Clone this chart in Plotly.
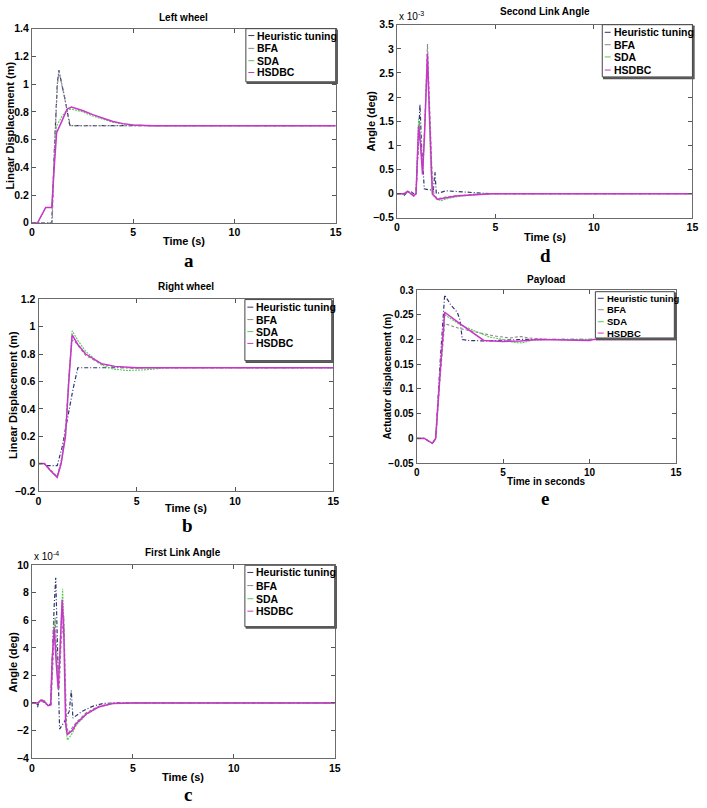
import plotly.graph_objects as go

W, H = 707, 808

# ---------------- data ----------------
# Panel a: Left wheel (m)
LW_HEUR_T = [0, 0.3, 0.98, 1.1, 1.25, 1.33, 1.45, 1.65, 1.87, 15]
LW_HEUR_Y = [0, 0, 0, 0.5, 1.0, 1.10, 1.02, 0.88, 0.70, 0.70]
LW_BFA_T = [0, 0.3, 1.0, 1.12, 1.26, 1.34, 1.5, 1.7, 1.9, 15]
LW_BFA_Y = [0, 0, 0, 0.55, 1.0, 1.09, 0.98, 0.85, 0.70, 0.70]
LW_SDA_T = [0, 0.28, 0.68, 0.98, 1.1, 1.22, 1.5, 1.74, 1.95, 2.5, 3.0, 3.5, 4.0, 4.5, 5.0, 6.0, 15]
LW_SDA_Y = [0, 0, 0.11, 0.11, 0.42, 0.70, 0.77, 0.815, 0.82, 0.80, 0.77, 0.745, 0.725, 0.712, 0.704, 0.70, 0.70]
LW_HSD_T = [0, 0.28, 0.68, 0.98, 1.1, 1.22, 1.5, 1.74, 1.95, 2.5, 3.0, 3.5, 4.0, 4.5, 5.0, 6.0, 15]
LW_HSD_Y = [0, 0, 0.11, 0.11, 0.4, 0.65, 0.74, 0.82, 0.835, 0.81, 0.78, 0.755, 0.73, 0.715, 0.705, 0.70, 0.70]

# Panel b: Right wheel (m)
RW_HEUR_T = [0, 0.3, 0.4, 0.95, 1.2, 1.5, 1.75, 2.0, 15]
RW_HEUR_Y = [0, 0, -0.015, -0.015, 0.12, 0.35, 0.54, 0.70, 0.70]
RW_BFA_T = [0, 0.3, 0.95, 1.2, 1.4, 1.55, 1.7, 1.8, 2.4, 3.2, 4.0, 4.8, 5.5, 6.5, 15]
RW_BFA_Y = [0, 0, -0.095, 0.05, 0.3, 0.65, 0.9, 0.9, 0.79, 0.725, 0.705, 0.695, 0.70, 0.70, 0.70]
RW_SDA_T = [0, 0.29, 0.6, 0.95, 1.15, 1.37, 1.54, 1.71, 2.0, 2.4, 3.2, 3.8, 4.5, 5.5, 6.5, 15]
RW_SDA_Y = [0, 0, -0.05, -0.10, 0.0, 0.2, 0.62, 0.97, 0.9, 0.82, 0.72, 0.69, 0.68, 0.685, 0.70, 0.70]
RW_HSD_T = [0, 0.29, 0.6, 0.95, 1.15, 1.37, 1.54, 1.71, 2.0, 2.4, 3.2, 3.9, 5.0, 15]
RW_HSD_Y = [0, 0, -0.05, -0.10, 0.0, 0.2, 0.6, 0.94, 0.87, 0.80, 0.73, 0.71, 0.70, 0.70]

# Panel c: First link angle (deg, x 1e-4)
FL_HEUR_T = [0, 0.25, 0.28, 0.35, 0.5, 0.7, 0.93, 1.0, 1.1, 1.18, 1.25, 1.3, 1.37, 1.6, 1.85, 1.95, 2.03, 2.5, 3.0, 3.5, 4.0, 15]
FL_HEUR_Y = [0, 0, -0.3, 0.1, 0.2, -0.1, -0.1, 3, 7, 9.1, 5, 1, -1.9, -1.4, -0.6, 0.9, -1.1, -0.6, -0.25, -0.05, 0, 0]
FL_BFA_T = [0, 0.3, 0.45, 0.8, 0.95, 1.05, 1.15, 1.25, 1.35, 1.45, 1.58, 1.65, 1.72, 1.8, 2.2, 2.7, 3.3, 4.0, 5.0, 15]
FL_BFA_Y = [0, 0, 0.15, -0.15, -0.1, 3.5, 6.2, 3, 1.0, 4.5, 6.3, 2, -1.6, -2.2, -1.4, -0.7, -0.25, -0.03, 0, 0]
FL_SDA_T = [0, 0.3, 0.45, 0.6, 0.8, 0.93, 1.0, 1.1, 1.2, 1.3, 1.4, 1.52, 1.6, 1.68, 1.76, 2.0, 2.2, 2.7, 3.3, 4.0, 5.0, 15]
FL_SDA_Y = [0, 0, 0.2, 0.15, -0.2, -0.15, 3.2, 6.0, 3.5, 1.2, 4.5, 8.3, 5, -1.8, -2.7, -2.2, -1.6, -0.85, -0.3, -0.05, 0, 0]
FL_HSD_T = [0, 0.3, 0.45, 0.6, 0.8, 0.93, 1.0, 1.1, 1.2, 1.3, 1.4, 1.5, 1.58, 1.67, 1.75, 2.0, 2.2, 2.7, 3.3, 4.0, 5.0, 15]
FL_HSD_Y = [0, 0, 0.2, 0.15, -0.2, -0.15, 3, 5.5, 3, 1, 4, 7.5, 5, -1.5, -2.3, -2.0, -1.5, -0.8, -0.3, -0.05, 0, 0]

# Panel d: Second link angle (deg, x 1e-3)
SL_HEUR_T = [0, 0.3, 0.35, 0.5, 0.7, 0.9, 0.97, 1.05, 1.17, 1.25, 1.39, 1.6, 1.85, 1.93, 2.0, 2.5, 3.5, 4.7, 15]
SL_HEUR_Y = [0, 0, -0.05, 0.03, 0.05, -0.02, 0, 0.9, 1.85, 1.0, 0.1, 0.08, 0.08, 0.45, 0.0, 0.06, 0.03, 0, 0]
SL_BFA_T = [0, 0.3, 0.55, 0.85, 0.97, 1.07, 1.15, 1.22, 1.32, 1.42, 1.55, 1.62, 1.7, 1.8, 1.9, 2.1, 2.6, 3.2, 4.0, 4.8, 15]
SL_BFA_Y = [0, 0, 0.04, -0.04, 0, 1.0, 1.5, 0.9, 0.5, 1.5, 3.1, 2.3, 1.2, 0.2, -0.05, -0.1, -0.06, -0.04, -0.01, 0, 0]
SL_SDA_T = [0, 0.3, 0.55, 0.7, 0.85, 0.97, 1.05, 1.1, 1.2, 1.3, 1.4, 1.55, 1.62, 1.72, 1.8, 2.2, 2.6, 3.2, 4.0, 4.8, 15]
SL_SDA_Y = [0, 0, 0.05, 0, -0.05, 0, 1.1, 1.55, 1.1, 0.45, 1.3, 2.8, 1.9, 0.5, -0.02, -0.15, -0.1, -0.05, -0.02, 0, 0]
SL_HSD_T = [0, 0.3, 0.4, 0.55, 0.7, 0.85, 0.97, 1.05, 1.1, 1.2, 1.3, 1.4, 1.55, 1.62, 1.72, 1.8, 2.05, 2.5, 3.0, 4.0, 4.8, 15]
SL_HSD_Y = [0, 0, 0.0, 0.05, 0.0, -0.05, 0.0, 1.0, 1.4, 1.0, 0.4, 1.2, 2.9, 2.0, 0.6, 0.0, -0.12, -0.09, -0.05, -0.02, 0, 0]

# Panel e: Payload actuator displacement (m)
PL_HEUR_T = [0, 0.44, 0.91, 1.1, 1.35, 1.62, 1.97, 2.35, 2.5, 2.64, 3.0, 4.0, 6.0, 8.0, 10.0, 12.0, 15]
PL_HEUR_Y = [0, 0, -0.01, 0.0, 0.15, 0.29, 0.27, 0.255, 0.24, 0.2, 0.198, 0.197, 0.2, 0.2, 0.199, 0.2, 0.2]
PL_BFA_T = [0, 0.44, 0.91, 1.1, 1.35, 1.62, 2.5, 3.4, 4.5, 5.4, 6.0, 6.5, 7.5, 15]
PL_BFA_Y = [0, 0, -0.01, 0, 0.12, 0.232, 0.222, 0.215, 0.207, 0.203, 0.206, 0.203, 0.2, 0.2]
PL_SDA_T = [0, 0.44, 0.91, 1.1, 1.35, 1.62, 2.5, 3.5, 4.2, 5.0, 5.6, 6.1, 6.6, 7.5, 15]
PL_SDA_Y = [0, 0, -0.01, 0, 0.13, 0.25, 0.23, 0.215, 0.205, 0.2, 0.194, 0.193, 0.198, 0.2, 0.2]
PL_HSD_T = [0, 0.44, 0.91, 1.1, 1.35, 1.62, 2.5, 3.2, 3.88, 5.0, 6.0, 7.0, 10.0, 10.2, 15]
PL_HSD_Y = [0, 0, -0.01, 0.0, 0.13, 0.255, 0.232, 0.215, 0.198, 0.196, 0.197, 0.2, 0.198, 0.2, 0.2]

SERIES_NAMES = ["Heuristic tuning", "BFA", "SDA", "HSDBC"]
X_TICKS = [0, 5, 10, 15]
A_YTICKS = [0, 0.2, 0.4, 0.6, 0.8, 1.0, 1.2, 1.4]
B_YTICKS = [-0.2, 0, 0.2, 0.4, 0.6, 0.8, 1.0, 1.2]
C_YTICKS = [-4, -2, 0, 2, 4, 6, 8, 10]
D_YTICKS = [-0.5, 0, 0.5, 1, 1.5, 2, 2.5, 3, 3.5]
E_YTICKS = [-0.05, 0, 0.05, 0.1, 0.15, 0.2, 0.25, 0.3]

# ---------------- styling ----------------
STYLES = [
    dict(color="#2f3670", width=1.2, dash="4px,2px,1px,2px"),
    dict(color="#8a8a8a", width=1.1, dash="3px,2px"),
    dict(color="#55cc55", width=1.1, dash="2px,1px"),
    dict(color="#cc33cc", width=1.5, dash="solid"),
]
FONT = "Liberation Sans, Arial, Helvetica, sans-serif"
SERIF = "Liberation Serif, Times New Roman, serif"

def px(x, y):
    return x / W, 1 - y / H

panels = [
    dict(key="a", box=(29.3, 23, 337, 220), yr=(0, 1.4), yt=A_YTICKS,
         data=[(LW_HEUR_T, LW_HEUR_Y), (LW_BFA_T, LW_BFA_Y), (LW_SDA_T, LW_SDA_Y), (LW_HSD_T, LW_HSD_Y)],
         title="Left wheel", ty=12, xl="Time (s)", xly=239, ylab="Linear Displacement (m)", ylx=7,
         letter=(188, 258), leg=(246, 23, 337, 77, [30, 43, 55.5, 67.5], 10.5), mult=None, tfs=10.5),
    dict(key="b", box=(36, 297.7, 334.5, 492.3), yr=(-0.2, 1.2), yt=B_YTICKS,
         data=[(RW_HEUR_T, RW_HEUR_Y), (RW_BFA_T, RW_BFA_Y), (RW_SDA_T, RW_SDA_Y), (RW_HSD_T, RW_HSD_Y)],
         title="Right wheel", ty=285, xl="Time (s)", xly=510, ylab="Linear Displacement (m)", ylx=10,
         letter=(187, 527), leg=(245, 298, 333, 360, [305.7, 318.3, 330.5, 342.5], 10.5), mult=None, tfs=10.5),
    dict(key="c", box=(29.3, 567.7, 336, 763.3), yr=(-4, 10), yt=C_YTICKS,
         data=[(FL_HEUR_T, FL_HEUR_Y), (FL_BFA_T, FL_BFA_Y), (FL_SDA_T, FL_SDA_Y), (FL_HSD_T, FL_HSD_Y)],
         title="First Link Angle", ty=555, xl="Time (s)", xly=783, ylab="Angle (deg)", ylx=10,
         letter=(187, 800), leg=(245, 567.7, 336, 630, [575, 588.3, 601.7, 614.3], 10.5), mult="-4", tfs=10.5),
    dict(key="d", box=(399, 19, 698.3, 215), yr=(-0.5, 3.5), yt=D_YTICKS,
         data=[(SL_HEUR_T, SL_HEUR_Y), (SL_BFA_T, SL_BFA_Y), (SL_SDA_T, SL_SDA_Y), (SL_HSD_T, SL_HSD_Y)],
         title="Second Link Angle", ty=6, xl="Time (s)", xly=234, ylab="Angle (deg)", ylx=373,
         letter=(549, 253), leg=(607, 19, 698.3, 72, [26.7, 39.3, 51.7, 65], 10.5), mult="-3", tfs=10.5),
    dict(key="e", box=(419, 288.3, 681.7, 464), yr=(-0.05, 0.3), yt=E_YTICKS,
         data=[(PL_HEUR_T, PL_HEUR_Y), (PL_BFA_T, PL_BFA_Y), (PL_SDA_T, PL_SDA_Y), (PL_HSD_T, PL_HSD_Y)],
         title="Payload", ty=278, xl="Time in seconds", xly=483, ylab="Actuator displacement (m)", ylx=390,
         letter=(549, 500), leg=(600, 290, 680, 337, [296.7, 308.3, 320.5, 332], 9.5), mult=None, tfs=10),
]

fig = go.Figure()
layout = dict(width=W, height=H, margin=dict(l=0, r=0, t=0, b=0),
              paper_bgcolor="white", plot_bgcolor="white", showlegend=False)
annotations = []
shapes = []

for i, p in enumerate(panels):
    n = "" if i == 0 else str(i + 1)
    x0, y0, x1, y1 = p["box"]
    dx0, dy1 = px(x0, y0)
    dx1, dy0 = px(x1, y1)
    for (t, v), name, st in zip(p["data"], SERIES_NAMES, STYLES):
        fig.add_trace(go.Scatter(x=t, y=v, mode="lines", name=name, line=st,
                                 xaxis="x" + n, yaxis="y" + n, showlegend=False,
                                 hoverinfo="skip"))
    axcommon = dict(showline=True, linecolor="#6b6b6b", linewidth=1, mirror="ticks",
                    ticks="inside", ticklen=4, tickcolor="#555", showgrid=False, zeroline=False,
                    tickfont=dict(family=FONT, size=p["tfs"], color="black", weight="bold"))
    layout["xaxis" + n] = dict(domain=[dx0, dx1], range=[0, 15], tickvals=X_TICKS,
                               anchor="y" + n, ticklabelstandoff=0, **axcommon)
    layout["yaxis" + n] = dict(domain=[dy0, dy1], range=list(p["yr"]), tickvals=p["yt"],
                               anchor="x" + n, ticklabelstandoff=0, **axcommon)
    cx = (x0 + x1) / 2
    annotations.append(dict(text=p["title"], x=cx / W, y=1 - p["ty"] / H, xref="paper", yref="paper",
                            showarrow=False, xanchor="center", yanchor="middle",
                            font=dict(family=FONT, size=10, color="black", weight="bold")))
    annotations.append(dict(text=p["xl"], x=cx / W, y=1 - p["xly"] / H, xref="paper", yref="paper",
                            showarrow=False, xanchor="center", yanchor="middle",
                            font=dict(family=FONT, size=11 if p["key"] != "e" else 10,
                                      color="black", weight="bold")))
    annotations.append(dict(text=p["ylab"], x=p["ylx"] / W, y=1 - ((y0 + y1) / 2) / H, xref="paper",
                            yref="paper", showarrow=False, textangle=-90, xanchor="center",
                            yanchor="middle",
                            font=dict(family=FONT, size=11 if p["key"] != "e" else 10,
                                      color="black", weight="bold")))
    annotations.append(dict(text=p["key"], x=p["letter"][0] / W, y=1 - p["letter"][1] / H,
                            xref="paper", yref="paper", showarrow=False, xanchor="center",
                            yanchor="middle",
                            font=dict(family=SERIF, size=19, color="black", weight="bold")))
    if p["mult"]:
        annotations.append(dict(text="x 10<sup>" + p["mult"] + "</sup>", x=x0 / W,
                                y=1 - (y0 - 1) / H, xref="paper", yref="paper", showarrow=False,
                                xanchor="left", yanchor="bottom",
                                font=dict(family=FONT, size=10, color="black")))
    # legend box drawn like the MATLAB legend
    lx0, ly0, lx1, ly1, rows, fs = p["leg"]
    shapes.append(dict(type="rect", xref="paper", yref="paper",
                       x0=(lx0 + 1.5) / W, x1=(lx1 + 1.5) / W, y0=1 - (ly1 + 1.5) / H, y1=1 - (ly0 + 1.5) / H,
                       line=dict(color="#555", width=1.5), fillcolor="#777", layer="above"))
    shapes.append(dict(type="rect", xref="paper", yref="paper",
                       x0=lx0 / W, x1=lx1 / W, y0=1 - ly1 / H, y1=1 - ly0 / H,
                       line=dict(color="#444", width=1), fillcolor="white", layer="above"))
    for ry, name, st in zip(rows, SERIES_NAMES, STYLES):
        shapes.append(dict(type="line", xref="paper", yref="paper",
                           x0=(lx0 + 2.5) / W, x1=(lx0 + 8.5) / W, y0=1 - ry / H, y1=1 - ry / H,
                           line=dict(color=st["color"], width=1), layer="above"))
        annotations.append(dict(text=name, x=(lx0 + 9.5) / W, y=1 - ry / H, xref="paper",
                                yref="paper", showarrow=False, xanchor="left", yanchor="middle",
                                font=dict(family=FONT, size=fs, color="black", weight="bold")))

layout["annotations"] = annotations
layout["shapes"] = shapes
fig.update_layout(**layout)
fig.write_html("out.html", config={"displayModeBar": False},
               post_script="document.body.style.margin='0';document.body.style.overflow='hidden';")
